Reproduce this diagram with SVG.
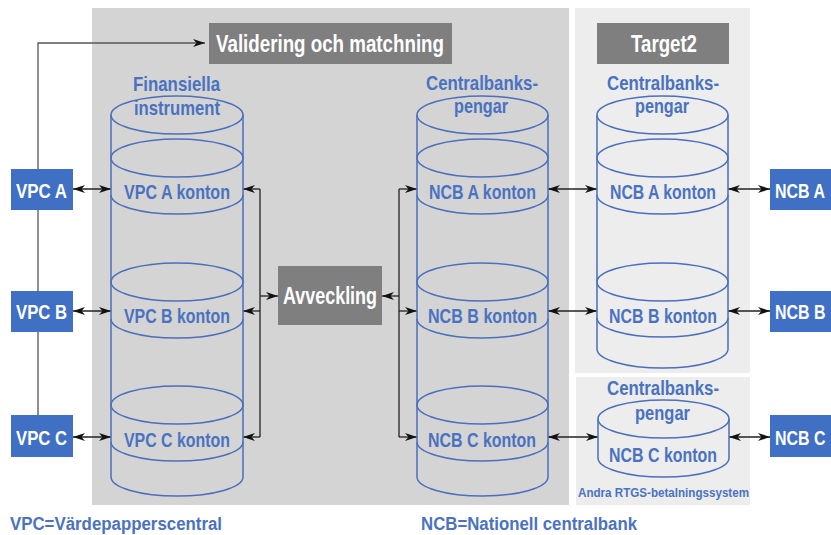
<svg xmlns="http://www.w3.org/2000/svg" width="831" height="535" viewBox="0 0 831 535">
  <style>
    text { font-family: "Liberation Sans", Arial, sans-serif; font-weight: bold; }
    .hdr { fill: #ffffff; font-size: 23px; }
    .lbl { fill: #4a72c0; font-size: 21px; }
    .box-t { fill: #ffffff; font-size: 21px; }
    .foot { fill: #4a72c0; font-size: 18px; }
    .small { fill: #4a72c0; font-size: 13px; }
    .cyl { fill: none; stroke: #4a6fbd; stroke-width: 1.5; }
    .dark { fill: #7f7f7f; }
    .blue { fill: #4070c4; }
    .conn { fill: none; stroke: #222222; stroke-width: 1.3; }
    .conn2 { fill: none; stroke: #555555; stroke-width: 1.3; }
  </style>
  <defs>
    <marker id="ah" viewBox="0 0 12 8" refX="12" refY="4" markerWidth="12" markerHeight="8" orient="auto-start-reverse" markerUnits="userSpaceOnUse">
      <path d="M0,0 L12,4 L0,8 L3.5,4 z" fill="#111111"/>
    </marker>
  </defs>

  <!-- background panels -->
  <rect x="0" y="0" width="831" height="535" fill="#ffffff"/>
  <rect id="panel-main" x="92" y="8" width="477" height="497" fill="#d4d4d4"/>
  <rect id="panel-target2" x="575" y="8" width="175" height="365" fill="#ededed"/>
  <rect id="panel-rtgs" x="576" y="377" width="174" height="128" fill="#ededed"/>

  <!-- connectors -->
  <g id="connectors">
    <path class="conn2" d="M38,415 V43 H205" marker-end="url(#ah)"/>
    <path class="conn" d="M73,189 H111" marker-start="url(#ah)" marker-end="url(#ah)"/>
    <path class="conn" d="M73,311 H111" marker-start="url(#ah)" marker-end="url(#ah)"/>
    <path class="conn" d="M73,437 H111" marker-start="url(#ah)" marker-end="url(#ah)"/>
    <!-- settlement bracket, securities side -->
    <path class="conn" d="M260,189 V437"/>
    <path class="conn" d="M260,189 H243" marker-end="url(#ah)"/>
    <path class="conn" d="M260,311 H243" marker-end="url(#ah)"/>
    <path class="conn" d="M260,437 H243" marker-end="url(#ah)"/>
    <path class="conn" d="M260,296 H278" marker-end="url(#ah)"/>
    <!-- settlement bracket, cash side -->
    <path class="conn" d="M399,189 V437"/>
    <path class="conn" d="M399,189 H417" marker-end="url(#ah)"/>
    <path class="conn" d="M399,311 H417" marker-end="url(#ah)"/>
    <path class="conn" d="M399,437 H417" marker-end="url(#ah)"/>
    <path class="conn" d="M399,296 H382" marker-end="url(#ah)"/>
    <!-- central bank money links -->
    <path class="conn" d="M548,189 H597" marker-start="url(#ah)" marker-end="url(#ah)"/>
    <path class="conn" d="M548,311 H597" marker-start="url(#ah)" marker-end="url(#ah)"/>
    <path class="conn" d="M548,437 H598" marker-start="url(#ah)" marker-end="url(#ah)"/>
    <path class="conn" d="M728,189 H770" marker-start="url(#ah)" marker-end="url(#ah)"/>
    <path class="conn" d="M728,311 H770" marker-start="url(#ah)" marker-end="url(#ah)"/>
    <path class="conn" d="M729,437 H770" marker-start="url(#ah)" marker-end="url(#ah)"/>
  </g>

  <!-- header boxes -->
  <g id="validering">
    <rect class="dark" x="209" y="23" width="243" height="41"/>
    <text class="hdr" x="216" y="52" textLength="228" lengthAdjust="spacingAndGlyphs">Validering och matchning</text>
  </g>
  <g id="target2">
    <rect class="dark" x="597" y="23" width="132" height="41"/>
    <text class="hdr" x="631" y="52" textLength="66" lengthAdjust="spacingAndGlyphs">Target2</text>
  </g>
  <g id="avveckling">
    <rect class="dark" x="278" y="266" width="104" height="59"/>
    <text class="hdr" x="283" y="304" textLength="94" lengthAdjust="spacingAndGlyphs">Avveckling</text>
  </g>

  <!-- securities cylinder -->
  <g id="cyl-finansiella">
    <path class="cyl" d="M111,115 V477 M243,115 V477"/>
    <ellipse class="cyl" cx="177" cy="115" rx="66" ry="19"/>
    <ellipse class="cyl" cx="177" cy="158" rx="66" ry="19"/>
    <path class="cyl" d="M111,195 A66,19 0 0 0 243,195"/>
    <ellipse class="cyl" cx="177" cy="282" rx="66" ry="19"/>
    <path class="cyl" d="M111,319 A66,19 0 0 0 243,319"/>
    <ellipse class="cyl" cx="177" cy="405" rx="66" ry="19"/>
    <path class="cyl" d="M111,442 A66,19 0 0 0 243,442"/>
    <path class="cyl" d="M111,477 A66,19 0 0 0 243,477"/>
    <text class="lbl" x="133" y="91" textLength="87" lengthAdjust="spacingAndGlyphs">Finansiella</text>
    <text class="lbl" x="134" y="115" textLength="86" lengthAdjust="spacingAndGlyphs">instrument</text>
    <text class="lbl" x="124" y="199" textLength="106" lengthAdjust="spacingAndGlyphs">VPC A konton</text>
    <text class="lbl" x="124" y="323" textLength="106" lengthAdjust="spacingAndGlyphs">VPC B konton</text>
    <text class="lbl" x="124" y="447" textLength="106" lengthAdjust="spacingAndGlyphs">VPC C konton</text>
  </g>

  <!-- central bank money cylinder -->
  <g id="cyl-centralbank">
    <path class="cyl" d="M417,115 V477 M548,115 V477"/>
    <ellipse class="cyl" cx="482.5" cy="115" rx="65.5" ry="19"/>
    <ellipse class="cyl" cx="482.5" cy="158" rx="65.5" ry="19"/>
    <path class="cyl" d="M417,195 A65.5,19 0 0 0 548,195"/>
    <ellipse class="cyl" cx="482.5" cy="282" rx="65.5" ry="19"/>
    <path class="cyl" d="M417,319 A65.5,19 0 0 0 548,319"/>
    <ellipse class="cyl" cx="482.5" cy="405" rx="65.5" ry="19"/>
    <path class="cyl" d="M417,442 A65.5,19 0 0 0 548,442"/>
    <path class="cyl" d="M417,477 A65.5,19 0 0 0 548,477"/>
    <text class="lbl" x="426" y="90" textLength="112" lengthAdjust="spacingAndGlyphs">Centralbanks-</text>
    <text class="lbl" x="454" y="113" textLength="54" lengthAdjust="spacingAndGlyphs">pengar</text>
    <text class="lbl" x="429" y="199" textLength="107" lengthAdjust="spacingAndGlyphs">NCB A konton</text>
    <text class="lbl" x="428" y="323" textLength="109" lengthAdjust="spacingAndGlyphs">NCB B konton</text>
    <text class="lbl" x="428" y="447" textLength="108" lengthAdjust="spacingAndGlyphs">NCB C konton</text>
  </g>

  <!-- Target2 cylinder -->
  <g id="cyl-target2">
    <path class="cyl" d="M597,115 V349 M728,115 V349"/>
    <ellipse class="cyl" cx="662.5" cy="115" rx="65.5" ry="19"/>
    <ellipse class="cyl" cx="662.5" cy="158" rx="65.5" ry="19"/>
    <path class="cyl" d="M597,195 A65.5,19 0 0 0 728,195"/>
    <ellipse class="cyl" cx="662.5" cy="282" rx="65.5" ry="19"/>
    <path class="cyl" d="M597,318 A65.5,19 0 0 0 728,318"/>
    <path class="cyl" d="M597,349 A65.5,19 0 0 0 728,349"/>
    <text class="lbl" x="607" y="90" textLength="112" lengthAdjust="spacingAndGlyphs">Centralbanks-</text>
    <text class="lbl" x="635" y="113" textLength="54" lengthAdjust="spacingAndGlyphs">pengar</text>
    <text class="lbl" x="610" y="199" textLength="106" lengthAdjust="spacingAndGlyphs">NCB A konton</text>
    <text class="lbl" x="609" y="323" textLength="108" lengthAdjust="spacingAndGlyphs">NCB B konton</text>
  </g>

  <!-- other RTGS cylinder -->
  <g id="cyl-rtgs">
    <path class="cyl" d="M598,419 V458 M729,419 V458"/>
    <ellipse class="cyl" cx="663.5" cy="419" rx="65.5" ry="19"/>
    <path class="cyl" d="M598,458 A65.5,19 0 0 0 729,458"/>
    <text class="lbl" x="607" y="395" textLength="112" lengthAdjust="spacingAndGlyphs">Centralbanks-</text>
    <text class="lbl" x="635" y="420" textLength="55" lengthAdjust="spacingAndGlyphs">pengar</text>
    <text class="lbl" x="609" y="462" textLength="108" lengthAdjust="spacingAndGlyphs">NCB C konton</text>
    <text class="small" x="578" y="497" textLength="171" lengthAdjust="spacingAndGlyphs">Andra RTGS-betalningssystem</text>
  </g>

  <!-- participant boxes -->
  <g id="vpc-a"><rect class="blue" x="11" y="169" width="62" height="41"/><text class="box-t" x="16" y="198" textLength="51" lengthAdjust="spacingAndGlyphs">VPC A</text></g>
  <g id="vpc-b"><rect class="blue" x="11" y="291" width="62" height="41"/><text class="box-t" x="16" y="319" textLength="51" lengthAdjust="spacingAndGlyphs">VPC B</text></g>
  <g id="vpc-c"><rect class="blue" x="11" y="415" width="62" height="42"/><text class="box-t" x="16" y="445" textLength="51" lengthAdjust="spacingAndGlyphs">VPC C</text></g>
  <!-- right-hand boxes run to the edge; labels are squeezed horizontally to fit -->
  <g id="ncb-a"><rect class="blue" x="770" y="169" width="61" height="41"/><text class="box-t" transform="translate(775,198) scale(0.76,1)">NCB A</text></g>
  <g id="ncb-b"><rect class="blue" x="770" y="291" width="61" height="41"/><text class="box-t" transform="translate(775,319) scale(0.76,1)">NCB B</text></g>
  <g id="ncb-c"><rect class="blue" x="770" y="415" width="61" height="42"/><text class="box-t" transform="translate(775,445) scale(0.76,1)">NCB C</text></g>

  <!-- legend -->
  <text class="foot" x="10" y="530" textLength="212" lengthAdjust="spacingAndGlyphs">VPC=Värdepapperscentral</text>
  <text class="foot" x="421" y="530" textLength="216" lengthAdjust="spacingAndGlyphs">NCB=Nationell centralbank</text>
</svg>
